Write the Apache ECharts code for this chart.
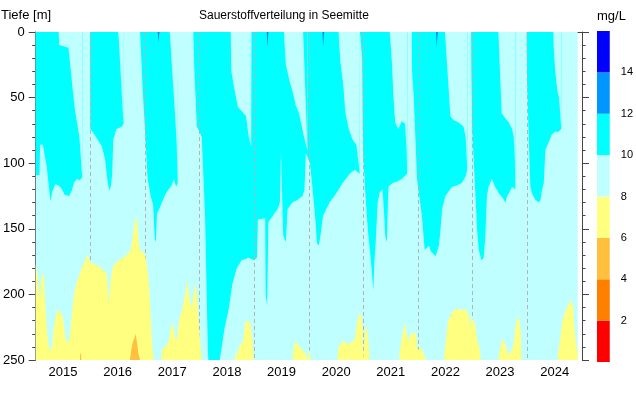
<!DOCTYPE html>
<html><head><meta charset="utf-8">
<script src="https://cdn.jsdelivr.net/npm/echarts@6/dist/echarts.min.js"></script>
<style>html,body{margin:0;padding:0;background:#fff}#c{width:636px;height:395px}</style>
</head><body><div id="c"></div>
<script>
// ---- tick labels / classes ----
const yearLabels = ['2015','2016','2017','2018','2019','2020','2021','2022','2023','2024'];
const yearLines = [2016,2017,2018,2019,2020,2021,2022,2023,2024];
const classLevels = [0,2,4,6,8,10,12,14,16];
const classColors = ['#ff0000','#ff8000','#ffc040','#ffff80','#c0ffff','#00ffff','#0096ff','#0000ff'];

// ---- data: [decimal year, depth m] ----
const measuredSpan = [[2015.0,250],[2024.92,250]];
// lower boundary of the 10-12 mg/L zone
const cyanLower = [
[2015.00,109],[2015.07,109],[2015.08,86],[2015.13,86],[2015.2,102],[2015.27,129],[2015.31,121],[2015.36,116],[2015.42,117],[2015.47,119],[2015.53,124],[2015.61,125],[2015.66,121],[2015.7,115],[2015.75,112],[2015.8,113],[2015.85,111],[2015.855,0],
[2015.995,0],[2016.0,74],[2016.09,79],[2016.15,83],[2016.21,87],[2016.27,97],[2016.32,115],[2016.35,121],[2016.38,117],[2016.4,108],[2016.42,82],[2016.48,74],[2016.58,72],[2016.61,70],[2016.615,0],
[2016.91,0],[2016.96,45],[2017.0,74],[2017.05,112],[2017.1,124],[2017.15,132],[2017.18,158],[2017.2,160],[2017.22,138],[2017.25,136],[2017.31,130],[2017.37,124],[2017.43,120],[2017.49,117],[2017.53,112],[2017.57,118],[2017.6,115],[2017.605,0],
[2017.885,0],[2017.9,25],[2017.95,72],[2018.04,80],[2018.1,140],[2018.15,240],[2018.16,250],[2018.37,250],[2018.46,225],[2018.53,212],[2018.6,192],[2018.68,180],[2018.77,174],[2018.9,172],[2019.0,174],
[2019.05,172],[2019.067,143],[2019.2,142],[2019.21,200],[2019.236,209],[2019.26,145],[2019.34,140],[2019.43,135],[2019.47,130],[2019.49,90],[2019.515,90],[2019.53,155],[2019.58,160],[2019.61,135],[2019.7,130],[2019.79,128],[2019.885,125],[2019.92,120],[2019.945,92],[2019.98,92],[2020.02,100],[2020.07,120],[2020.11,138],[2020.15,161],[2020.18,163],[2020.21,156],[2020.26,140],[2020.38,130],[2020.5,123],[2020.62,115],[2020.75,108],[2020.84,105],[2020.93,108],[2020.935,0],
[2020.97,0],[2020.975,20],[2020.99,90],[2021.03,120],[2021.08,151],[2021.14,176],[2021.18,197],[2021.2,175],[2021.22,163],[2021.26,130],[2021.3,122],[2021.35,120],[2021.38,140],[2021.4,156],[2021.43,160],[2021.45,125],[2021.46,118],[2021.53,115],[2021.62,114],[2021.7,112],[2021.8,108],[2021.805,0],
[2021.885,0],[2021.89,30],[2021.92,49],[2021.98,112],[2022.02,125],[2022.07,140],[2022.1,156],[2022.12,166],[2022.2,163],[2022.23,167],[2022.32,171],[2022.38,163],[2022.41,151],[2022.44,135],[2022.5,125],[2022.62,118],[2022.71,117],[2022.8,115],[2022.87,110],[2022.9,105],[2022.905,0],
[2022.97,0],[2022.975,30],[2022.99,74],[2023.02,100],[2023.05,125],[2023.08,151],[2023.11,166],[2023.16,174],[2023.2,172],[2023.23,156],[2023.26,125],[2023.29,118],[2023.35,112],[2023.41,118],[2023.48,123],[2023.54,126],[2023.6,130],[2023.63,125],[2023.66,123],[2023.72,118],[2023.75,118],[2023.78,120],[2023.785,0],
[2023.985,0],[2023.99,30],[2024.02,74],[2024.04,100],[2024.055,118],[2024.085,123],[2024.15,128],[2024.21,130],[2024.24,128],[2024.27,120],[2024.3,115],[2024.33,90],[2024.39,84],[2024.45,78],[2024.51,76],[2024.57,76],[2024.62,74],[2024.625,0],[2024.92,0]
];
// lower boundary of the surface 8-10 mg/L layer (summer)
const lightCap = [
[2015.0,0],[2015.42,0],[2015.43,10],[2015.6,12],[2015.62,20],[2015.68,45],[2015.72,60],[2015.8,80],[2015.85,110],[2015.855,0],
[2016.51,0],[2016.52,5],[2016.56,35],[2016.6,65],[2016.61,70],[2016.615,0],
[2017.45,0],[2017.46,3],[2017.5,30],[2017.55,62],[2017.58,85],[2017.6,115],[2017.605,0],
[2018.57,0],[2018.58,30],[2018.64,44],[2018.7,57],[2018.85,64],[2018.9,80],[2018.945,87],[2018.95,0],
[2019.545,0],[2019.55,5],[2019.58,25],[2019.65,38],[2019.7,45],[2019.76,56],[2019.82,62],[2019.88,74],[2019.94,85],[2019.975,90],[2019.98,0],
[2020.545,0],[2020.55,5],[2020.58,24],[2020.63,40],[2020.67,62],[2020.73,74],[2020.8,82],[2020.87,86],[2020.91,100],[2020.93,108],[2020.935,0],
[2021.48,0],[2021.49,5],[2021.52,23],[2021.55,50],[2021.58,69],[2021.64,74],[2021.7,68],[2021.76,70],[2021.79,90],[2021.8,108],[2021.805,0],
[2022.49,0],[2022.5,5],[2022.53,25],[2022.56,44],[2022.59,64],[2022.65,67],[2022.74,69],[2022.83,72],[2022.87,80],[2022.9,105],[2022.905,0],
[2023.47,0],[2023.475,5],[2023.5,31],[2023.53,62],[2023.6,66],[2023.66,69],[2023.72,74],[2023.75,80],[2023.77,95],[2023.78,120],[2023.785,0],
[2024.475,0],[2024.48,10],[2024.51,30],[2024.55,45],[2024.58,50],[2024.62,74],[2024.625,0],[2024.92,0]
];
// new winter 10-12 mg/L water entering from the surface
const cyanCap = [[2019.895,0],[2019.9,5],[2019.94,50],[2019.975,90],[2019.98,0]];
// upper boundary of the 6-8 mg/L bottom layer
const yellowTop = [
[2015.0,177],[2015.03,184],[2015.06,197],[2015.08,204],[2015.1,190],[2015.12,184],[2015.15,186],[2015.18,212],[2015.21,230],[2015.24,239],[2015.27,243],[2015.3,240],[2015.33,225],[2015.36,218],[2015.4,212],[2015.45,213],[2015.5,218],[2015.55,235],[2015.6,237],[2015.63,229],[2015.67,212],[2015.7,200],[2015.73,194],[2015.79,186],[2015.85,179],[2015.91,174],[2015.94,169],[2015.97,172],
[2016.0,176],[2016.09,177],[2016.2,180],[2016.3,184],[2016.32,195],[2016.34,207],[2016.36,195],[2016.38,186],[2016.42,178],[2016.52,174],[2016.64,171],[2016.73,167],[2016.76,161],[2016.79,151],[2016.82,143],[2016.84,140],[2016.87,151],[2016.89,161],[2016.91,167],[2016.95,167],[2017.0,170],[2017.03,176],[2017.07,189],[2017.1,212],[2017.13,237],[2017.16,250],
[2017.3,250],[2017.31,242],[2017.37,240],[2017.43,237],[2017.46,230],[2017.49,222],[2017.52,224],[2017.55,233],[2017.58,235],[2017.61,225],[2017.64,217],[2017.68,212],[2017.74,199],[2017.78,189],[2017.82,205],[2017.86,210],[2017.89,199],[2017.93,192],[2017.96,205],[2017.99,225],[2018.02,240],[2018.04,250],
[2018.64,250],[2018.65,246],[2018.67,243],[2018.7,248],[2018.72,240],[2018.76,238],[2018.8,235],[2018.83,222],[2018.86,220],[2018.92,221],[2018.95,228],[2018.97,237],[2018.99,250],
[2019.705,250],[2019.71,245],[2019.73,238],[2019.77,236],[2019.83,240],[2019.895,243],[2019.94,245],[2019.97,244],[2019.98,250],[2020.0,250],[2020.01,242],[2020.025,244],[2020.03,250],
[2020.525,250],[2020.53,245],[2020.55,239],[2020.59,238],[2020.62,235],[2020.66,237],[2020.72,238],[2020.78,236],[2020.84,235],[2020.87,225],[2020.9,217],[2020.93,214],[2020.96,217],[2020.985,228],[2020.995,250],
[2021.02,250],[2021.03,226],[2021.06,224],[2021.09,235],[2021.11,250],
[2021.655,250],[2021.66,245],[2021.69,236],[2021.74,225],[2021.76,222],[2021.8,232],[2021.84,235],[2021.87,229],[2021.91,231],[2021.96,228],[2021.99,243],[2022.05,240],[2022.11,246],[2022.14,250],
[2022.475,250],[2022.48,245],[2022.51,235],[2022.54,222],[2022.6,215],[2022.66,212],[2022.72,211],[2022.78,212],[2022.84,211],[2022.9,213],[2022.93,217],[2022.95,225],[2022.97,217],[2023.0,218],[2023.04,222],[2023.08,235],[2023.12,240],[2023.15,250],
[2023.475,250],[2023.48,245],[2023.51,240],[2023.54,233],[2023.57,236],[2023.6,239],[2023.63,243],[2023.66,246],[2023.69,247],[2023.72,242],[2023.75,237],[2023.78,225],[2023.82,217],[2023.85,219],[2023.88,230],[2023.89,250],
[2024.555,250],[2024.56,246],[2024.59,237],[2024.64,220],[2024.7,212],[2024.76,207],[2024.8,204],[2024.84,210],[2024.86,225],[2024.89,237],[2024.92,245]
];
// upper boundary of the 4-6 mg/L zone
const orangeTop = [[2015.81,250],[2015.815,244],[2015.83,246],[2015.835,250],[2016.725,250],[2016.73,248],[2016.75,242],[2016.78,236],[2016.81,233],[2016.83,230],[2016.86,238],[2016.88,245],[2016.91,250]];
// 12-14 mg/L surface spots
const blueSpots = [[2017.235,0],[2017.245,8],[2017.255,8],[2017.265,0],[2019.23,0],[2019.24,11],[2019.25,11],[2019.26,0],[2020.25,0],[2020.26,11],[2020.27,11],[2020.28,0],[2022.33,0],[2022.34,12],[2022.35,12],[2022.36,0]];

const FONT = 'Liberation Sans, Arial, sans-serif';
function area(name, data, color, origin, z) {
  return {type:'line', name, data, xAxisIndex:0, yAxisIndex:0, symbol:'none', showSymbol:false,
    lineStyle:{width:0, opacity:0}, areaStyle:{color, opacity:1, origin}, silent:true, z, animation:false};
}
const chart = echarts.init(document.getElementById('c'), null, {renderer:'canvas'});
const axisCol = '#444';
const cbSeries = classColors.map((c,i) => ({type:'bar', xAxisIndex:3, yAxisIndex:2, stack:'cb', barWidth:'100%',
  data:[classLevels[i+1]-classLevels[i]], itemStyle:{color:c}, silent:true, animation:false}));
const ttl = (text, left, top, size) => ({text, left, top, padding:0,
  textStyle:{fontSize:size, fontWeight:'normal', color:'#000', fontFamily:FONT}});
chart.setOption({
  animation:false,
  textStyle:{fontFamily:FONT},
  title:[
    ttl('Tiefe [m]', 1, 9, 13),
    ttl('Sauerstoffverteilung in Seemitte', 199, 10, 12),
    ttl('mg/L', 597, 10, 13)
  ],
  grid:[
    {left:33, top:32, width:549, height:328, containLabel:false},
    {left:597, top:31, width:20, height:331, containLabel:false}
  ],
  xAxis:[
    {type:'value', gridIndex:0, min:2015, max:2025, show:false},
    {type:'category', gridIndex:0, data:yearLabels, position:'bottom', boundaryGap:true,
      axisLine:{lineStyle:{color:axisCol}}, axisTick:{length:7, interval:0, lineStyle:{color:axisCol}},
      axisLabel:{fontSize:13, color:'#000', margin:6, interval:0, fontFamily:FONT}, splitLine:{show:false}},
    {type:'category', gridIndex:0, data:yearLabels, position:'top', boundaryGap:true,
      axisLine:{lineStyle:{color:axisCol}}, axisTick:{length:5, interval:0, lineStyle:{color:axisCol}},
      axisLabel:{show:false}, splitLine:{show:false}},
    {type:'category', gridIndex:1, data:['c'], show:false}
  ],
  yAxis:[
    {type:'value', gridIndex:0, inverse:true, min:0, max:250, interval:50, position:'left',
      axisLine:{show:true, lineStyle:{color:axisCol}}, axisTick:{show:true, length:7, lineStyle:{color:axisCol}},
      minorTick:{show:true, splitNumber:5, length:3.5, lineStyle:{color:axisCol}},
      axisLabel:{fontSize:13, color:'#000', margin:11, fontFamily:FONT}, splitLine:{show:false}},
    {type:'value', gridIndex:0, inverse:true, min:0, max:250, interval:50, position:'right',
      axisLine:{show:true, lineStyle:{color:axisCol}}, axisTick:{show:true, length:7, lineStyle:{color:axisCol}},
      minorTick:{show:true, splitNumber:5, length:3.5, lineStyle:{color:axisCol}},
      axisLabel:{show:false}, splitLine:{show:false}},
    {type:'value', gridIndex:1, min:0, max:16, interval:2, position:'right',
      axisLine:{show:false}, axisTick:{show:false}, splitLine:{show:false},
      axisLabel:{fontSize:11, color:'#000', margin:11, fontFamily:FONT,
        formatter:v => (v > classLevels[0] && v < classLevels[classLevels.length-1]) ? String(v) : ''}}
  ],
  series:[
    area('base', measuredSpan, '#c0ffff', 'start', 1),
    area('cyan', cyanLower, '#00ffff', 'start', 2),
    area('surface', lightCap, '#c0ffff', 'start', 3),
    area('winter', cyanCap, '#00ffff', 'start', 4),
    area('yellow', yellowTop, '#ffff80', 'end', 5),
    area('orange', orangeTop, '#ffc040', 'end', 6),
    area('blue', blueSpots, '#0080f0', 'start', 7),
    {type:'line', xAxisIndex:0, yAxisIndex:0, data:[], z:10, silent:true,
      markLine:{silent:true, symbol:['none','none'], label:{show:false}, animation:false,
        lineStyle:{type:[4,3], color:'#b4b4b4', width:1},
        data: yearLines.map(y => ({xAxis:y}))}},
    ...cbSeries
  ]
});
</script></body></html>
